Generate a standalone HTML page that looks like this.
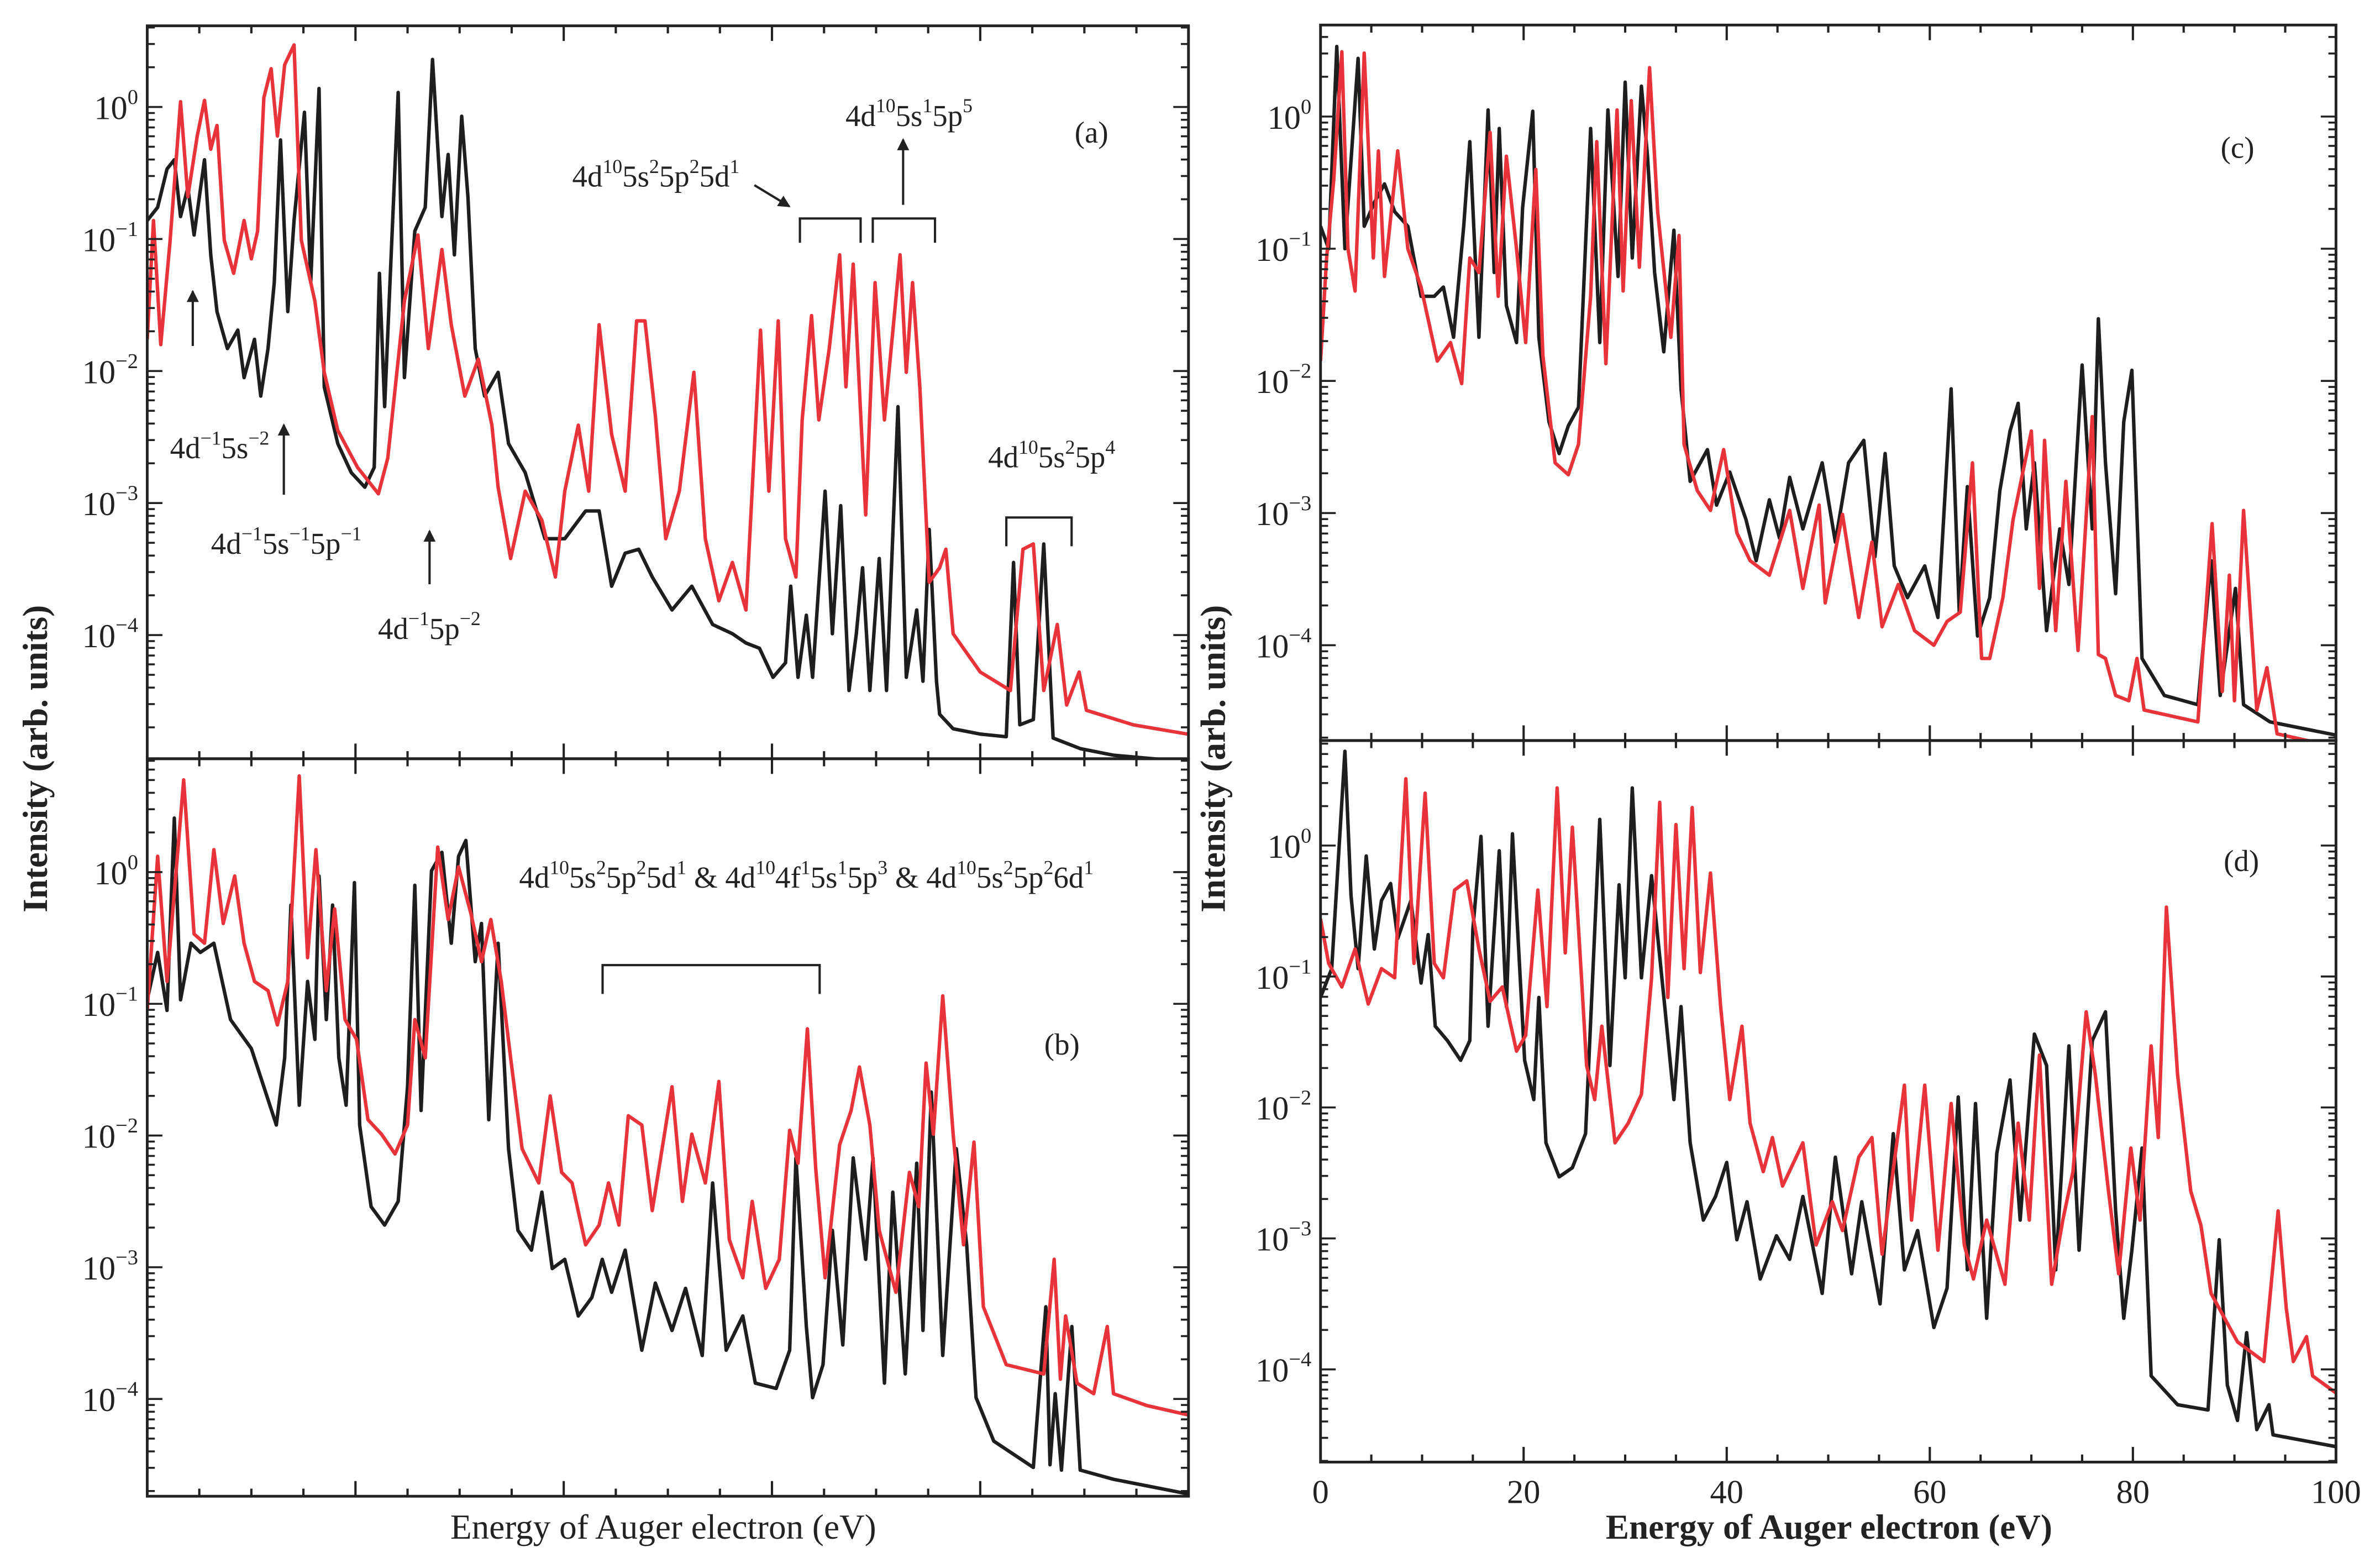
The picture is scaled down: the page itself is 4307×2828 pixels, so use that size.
<!DOCTYPE html>
<html><head><meta charset="utf-8"><style>
html,body{margin:0;padding:0;background:#fff}
svg{display:block}
text{font-family:"Liberation Serif",serif;fill:#222}
</style></head><body>
<svg id="fig" width="4307" height="2828" viewBox="0 0 1568 1030" preserveAspectRatio="none" xmlns="http://www.w3.org/2000/svg">
<rect width="1568" height="1030" fill="#fff"/>
<g id="layer"></g>
</svg>
<script>
// ---- data: [energy (eV), log10 intensity] ----
const aBlack=[[0,-0.86],[1.0,-0.76],[1.9,-0.47],[2.6,-0.40],[3.2,-0.83],[3.9,-0.61],[4.5,-0.97],[5.5,-0.40],[6.1,-1.12],[6.7,-1.55],[7.7,-1.83],[8.7,-1.69],[9.3,-2.05],[10.3,-1.76],[10.9,-2.19],[11.6,-1.83],[12.2,-1.33],[12.8,-0.25],[13.5,-1.55],[14.1,-0.86],[15.1,-0.04],[15.7,-1.33],[16.5,0.14],[17.0,-2.12],[18.3,-2.55],[19.6,-2.77],[20.9,-2.88],[21.8,-2.73],[22.3,-1.26],[22.8,-2.27],[24.1,0.11],[24.7,-2.05],[25.7,-0.94],[26.7,-0.76],[27.4,0.36],[28.3,-0.83],[28.9,-0.36],[29.5,-1.12],[30.2,-0.07],[30.8,-0.68],[31.5,-1.83],[32.4,-2.19],[33.7,-2.01],[34.7,-2.55],[36.3,-2.77],[38.2,-3.27],[40.1,-3.27],[42.1,-3.06],[43.4,-3.06],[44.6,-3.63],[45.9,-3.38],[47.2,-3.35],[48.5,-3.56],[50.4,-3.81],[52.3,-3.63],[54.3,-3.92],[56.2,-3.99],[57.5,-4.06],[58.8,-4.10],[60.1,-4.32],[61.3,-4.21],[61.8,-3.63],[62.5,-4.32],[63.3,-3.85],[63.9,-4.32],[65.1,-2.91],[65.8,-3.99],[66.6,-3.02],[67.4,-4.42],[68.1,-3.99],[68.7,-3.49],[69.4,-4.42],[70.3,-3.42],[71.0,-4.42],[72.1,-2.27],[72.9,-4.32],[73.9,-3.81],[74.5,-4.35],[75.1,-3.20],[75.8,-4.35],[76.1,-4.60],[77.4,-4.71],[80.0,-4.75],[82.5,-4.77],[83.2,-3.45],[83.8,-4.68],[85.1,-4.64],[86.1,-3.31],[87.0,-4.78],[89.6,-4.86],[92.8,-4.91],[99.9,-4.96]];
const aRed=[[0,-1.76],[0.6,-0.86],[1.3,-1.80],[2.2,-1.01],[3.2,0.04],[3.9,-0.68],[4.8,-0.22],[5.5,0.05],[6.1,-0.32],[6.7,-0.14],[7.4,-1.01],[8.3,-1.26],[9.3,-0.86],[10.0,-1.15],[10.6,-0.94],[11.2,0.07],[11.9,0.29],[12.5,-0.22],[13.2,0.32],[14.1,0.47],[14.8,-1.01],[16.1,-1.47],[17.0,-2.01],[18.3,-2.45],[20.2,-2.73],[22.2,-2.93],[23.1,-2.66],[24.7,-1.47],[26.0,-0.97],[27.0,-1.83],[28.3,-1.08],[29.2,-1.65],[30.5,-2.19],[31.8,-1.91],[33.1,-2.41],[33.7,-2.88],[34.9,-3.42],[36.3,-2.91],[37.9,-3.13],[39.2,-3.56],[40.1,-2.91],[41.4,-2.41],[42.4,-2.91],[43.4,-1.65],[44.6,-2.48],[45.9,-2.91],[47.0,-1.62],[47.8,-1.62],[48.8,-2.34],[49.8,-3.27],[51.1,-2.91],[52.5,-2.01],[53.6,-3.27],[54.9,-3.74],[56.2,-3.45],[57.5,-3.81],[58.9,-1.69],[59.7,-2.91],[60.6,-1.62],[61.3,-3.27],[62.3,-3.56],[62.9,-2.37],[63.8,-1.58],[64.5,-2.37],[65.5,-1.83],[66.5,-1.12],[67.1,-2.12],[67.8,-1.19],[69.0,-3.09],[69.9,-1.33],[70.8,-2.37],[72.3,-1.12],[72.9,-2.01],[73.5,-1.33],[74.2,-2.12],[75.1,-3.60],[76.1,-3.49],[76.7,-3.35],[77.4,-3.99],[80.0,-4.28],[82.9,-4.42],[84.1,-3.35],[85.1,-3.31],[86.1,-4.42],[87.4,-3.92],[88.3,-4.53],[89.5,-4.28],[90.2,-4.57],[94.7,-4.68],[99.9,-4.75]];
const bBlack=[[0,-0.97],[1.0,-0.61],[1.9,-1.05],[2.6,0.41],[3.2,-0.97],[4.2,-0.54],[5.1,-0.61],[6.4,-0.54],[8.0,-1.12],[10.0,-1.34],[11.2,-1.63],[12.4,-1.92],[13.2,-1.41],[13.8,-0.25],[14.6,-1.77],[15.4,-0.83],[16.1,-1.27],[16.5,-0.03],[17.2,-1.12],[17.8,-0.25],[18.4,-1.41],[19.1,-1.77],[19.9,-0.08],[20.4,-1.92],[21.5,-2.54],[22.8,-2.68],[24.1,-2.50],[25.0,-1.63],[25.7,-0.10],[26.3,-1.81],[27.3,0.01],[28.3,0.15],[29.2,-0.54],[29.9,0.12],[30.6,0.24],[31.5,-0.68],[32.1,-0.39],[32.8,-1.88],[33.7,-0.54],[34.7,-2.10],[35.6,-2.72],[36.9,-2.87],[37.9,-2.43],[38.9,-3.01],[40.1,-2.94],[41.4,-3.37],[42.7,-3.23],[43.7,-2.94],[44.6,-3.19],[45.9,-2.87],[47.5,-3.63],[48.8,-3.12],[50.4,-3.48],[51.7,-3.16],[53.3,-3.67],[54.3,-2.36],[55.6,-3.63],[57.2,-3.37],[58.4,-3.88],[60.4,-3.92],[61.7,-3.63],[62.3,-2.17],[63.3,-3.45],[63.9,-3.99],[64.9,-3.74],[65.8,-2.72],[66.8,-3.59],[67.8,-2.17],[69.0,-2.94],[69.7,-2.17],[70.8,-3.88],[71.6,-2.43],[72.8,-3.81],[73.9,-2.21],[74.5,-3.48],[75.3,-1.67],[76.4,-3.67],[77.7,-2.10],[78.7,-2.83],[79.6,-3.99],[81.3,-4.32],[85.1,-4.52],[86.3,-3.30],[86.7,-4.50],[87.2,-3.96],[87.8,-4.54],[88.8,-3.45],[89.6,-4.54],[92.8,-4.61],[99.9,-4.72]];
const bRed=[[0,-1.05],[1.0,0.12],[1.9,-0.83],[3.5,0.70],[4.5,-0.47],[5.5,-0.54],[6.4,0.17],[7.3,-0.39],[8.4,-0.03],[9.3,-0.54],[10.3,-0.83],[11.6,-0.90],[12.5,-1.16],[13.5,-0.83],[14.6,0.73],[15.4,-0.65],[16.2,0.17],[17.2,-0.90],[18.0,-0.28],[19.0,-1.12],[20.1,-1.27],[21.2,-1.88],[22.5,-1.99],[23.8,-2.14],[25.0,-1.92],[25.7,-1.12],[26.7,-1.41],[27.9,0.19],[28.9,-0.36],[29.9,0.04],[31.1,-0.32],[32.1,-0.68],[33.0,-0.36],[34.0,-0.83],[34.9,-1.41],[36.0,-2.10],[37.6,-2.36],[38.7,-1.70],[39.8,-2.28],[40.8,-2.36],[42.1,-2.83],[43.4,-2.68],[44.3,-2.36],[45.3,-2.68],[46.2,-1.85],[47.5,-1.92],[48.5,-2.57],[50.4,-1.63],[51.4,-2.50],[52.3,-1.99],[53.6,-2.36],[54.9,-1.59],[55.9,-2.79],[57.2,-3.08],[58.1,-2.50],[59.4,-3.16],[60.7,-2.94],[61.7,-1.96],[62.5,-2.21],[63.4,-1.19],[64.2,-2.25],[65.1,-3.08],[66.5,-2.07],[67.6,-1.81],[68.4,-1.48],[69.4,-1.92],[70.3,-2.72],[71.9,-3.19],[73.2,-2.28],[74.1,-2.54],[74.8,-1.45],[75.5,-1.99],[76.4,-0.94],[77.4,-1.99],[78.4,-2.83],[79.4,-2.05],[80.3,-3.30],[82.5,-3.74],[86.1,-3.81],[87.1,-2.94],[87.7,-3.85],[88.2,-3.37],[89.3,-3.88],[90.9,-3.96],[92.2,-3.45],[92.8,-3.96],[96.0,-4.05],[99.9,-4.12]];
const cBlack=[[0,-0.83],[0.8,-1.00],[1.6,0.53],[2.4,-1.00],[3.7,0.44],[4.3,-0.83],[5.3,-0.65],[6.3,-0.51],[7.3,-0.72],[8.6,-0.83],[9.9,-1.36],[11.2,-1.36],[12.1,-1.29],[13.1,-1.67],[14.1,-0.83],[14.7,-0.19],[15.6,-1.67],[16.5,0.05],[17.1,-1.18],[17.6,-0.09],[18.3,-1.43],[19.3,-1.71],[19.9,-0.69],[20.9,0.04],[21.5,-1.67],[22.5,-2.31],[23.5,-2.55],[24.4,-2.34],[25.4,-2.20],[26.6,-0.09],[27.5,-1.71],[28.3,0.05],[29.3,-1.21],[30.0,0.26],[30.7,-1.07],[31.6,0.23],[32.2,-0.30],[32.9,-1.18],[33.8,-1.78],[34.8,-0.86],[35.5,-2.06],[36.4,-2.76],[38.1,-2.52],[39.0,-2.94],[40.3,-2.69],[41.9,-3.05],[42.9,-3.36],[44.2,-2.90],[45.2,-3.19],[46.2,-2.73],[47.5,-3.12],[49.4,-2.62],[50.7,-3.22],[52.0,-2.62],[53.5,-2.45],[54.6,-3.33],[55.6,-2.55],[56.5,-3.40],[57.8,-3.64],[59.5,-3.40],[60.8,-3.79],[62.1,-2.06],[62.9,-3.75],[63.7,-2.80],[64.7,-3.93],[65.9,-3.64],[66.9,-2.83],[67.9,-2.38],[68.7,-2.17],[69.5,-3.12],[70.3,-2.62],[71.5,-3.89],[72.8,-3.12],[73.7,-3.54],[75.0,-1.88],[76.0,-3.12],[76.6,-1.53],[77.3,-2.62],[78.3,-3.61],[79.1,-2.31],[79.9,-1.92],[80.9,-4.10],[83.1,-4.38],[86.4,-4.45],[87.7,-3.36],[88.6,-4.38],[90.1,-3.57],[90.9,-4.45],[93.5,-4.58],[100,-4.68]];
const cRed=[[0,-1.85],[0.6,-1.07],[1.3,-0.48],[2.1,0.49],[2.7,-1.00],[3.4,-1.32],[4.3,0.48],[5.2,-1.07],[5.7,-0.26],[6.3,-1.21],[7.6,-0.26],[8.6,-1.00],[9.9,-1.29],[11.5,-1.85],[12.8,-1.71],[13.9,-2.02],[14.7,-1.07],[15.6,-1.18],[16.7,-0.12],[17.5,-1.36],[18.3,-0.30],[19.3,-1.00],[20.2,-1.71],[21.2,-0.40],[21.9,-1.81],[23.1,-2.62],[24.4,-2.71],[25.4,-2.48],[26.6,-1.36],[27.2,-0.19],[28.1,-1.87],[29.2,0.05],[29.8,-1.32],[30.6,0.12],[31.4,-1.14],[32.4,0.37],[33.2,-0.72],[34.5,-1.67],[35.3,-0.90],[35.8,-2.48],[37.1,-2.83],[38.4,-2.98],[39.7,-2.52],[41.0,-3.15],[42.3,-3.36],[44.2,-3.47],[46.2,-2.98],[47.5,-3.57],[49.1,-2.94],[49.7,-3.68],[51.4,-3.01],[53.0,-3.79],[54.3,-3.22],[55.3,-3.86],[56.9,-3.54],[58.5,-3.89],[60.4,-4.00],[61.7,-3.82],[63.0,-3.75],[64.2,-2.62],[65.1,-4.10],[65.9,-4.10],[67.2,-3.64],[68.2,-3.05],[70.0,-2.38],[70.8,-3.57],[71.3,-2.45],[72.4,-3.89],[73.4,-2.76],[74.6,-4.04],[76.0,-2.27],[76.6,-4.07],[77.3,-4.10],[78.3,-4.38],[79.6,-4.42],[80.4,-4.10],[81.1,-4.49],[86.4,-4.58],[87.8,-3.08],[88.8,-4.35],[89.5,-3.47],[90.0,-4.42],[90.9,-2.98],[92.2,-4.49],[93.2,-4.17],[94.2,-4.67],[100,-4.77]];
const dBlack=[[0,-1.16],[1.1,-0.94],[2.4,0.72],[3.0,-0.38],[3.7,-0.94],[4.5,-0.08],[5.3,-0.79],[6.0,-0.42],[6.9,-0.29],[7.6,-0.71],[8.9,-0.42],[9.9,-1.05],[10.6,-0.68],[11.3,-1.38],[12.5,-1.49],[13.8,-1.64],[14.7,-1.49],[15.0,-0.64],[15.8,0.07],[16.5,-1.38],[17.6,-0.04],[18.3,-1.23],[18.9,0.09],[20.1,-1.64],[21.0,-1.94],[21.5,-1.16],[22.2,-2.27],[23.5,-2.53],[24.8,-2.46],[26.1,-2.20],[27.5,0.20],[28.5,-1.68],[29.4,-0.30],[30.0,-1.01],[30.7,0.44],[31.6,-1.01],[32.6,-0.23],[33.9,-1.23],[34.8,-1.94],[35.5,-1.23],[36.4,-2.27],[37.7,-2.86],[38.9,-2.68],[40.0,-2.42],[41.0,-3.01],[42.0,-2.72],[43.3,-3.31],[44.9,-2.98],[46.2,-3.16],[47.5,-2.68],[49.4,-3.42],[50.7,-2.38],[52.3,-3.27],[53.3,-2.72],[55.1,-3.50],[56.4,-2.20],[57.5,-3.24],[58.8,-2.94],[60.4,-3.68],[61.7,-3.38],[62.8,-1.92],[63.7,-3.24],[64.5,-1.97],[65.6,-3.61],[66.6,-2.35],[67.9,-1.79],[68.9,-2.86],[70.3,-1.44],[71.5,-1.68],[72.4,-3.24],[73.7,-1.53],[74.7,-3.09],[76.0,-1.49],[77.3,-1.27],[78.3,-2.79],[79.1,-3.61],[79.9,-3.09],[80.9,-2.31],[81.8,-4.05],[84.4,-4.27],[87.4,-4.31],[88.5,-3.01],[89.3,-4.12],[90.3,-4.39],[91.2,-3.72],[92.2,-4.46],[93.4,-4.27],[93.8,-4.50],[100,-4.59]];
const dRed=[[0,-0.56],[0.8,-0.90],[2.1,-1.08],[3.4,-0.79],[4.7,-1.21],[6.0,-0.94],[7.3,-1.01],[8.4,0.51],[9.2,-0.90],[10.3,0.40],[11.2,-0.90],[12.1,-1.01],[13.2,-0.34],[14.4,-0.27],[15.6,-0.79],[16.7,-1.19],[17.9,-1.08],[19.3,-1.57],[20.2,-1.45],[21.4,-0.34],[22.3,-1.23],[23.3,0.44],[24.1,-0.82],[24.8,0.14],[25.7,-1.01],[26.2,-1.68],[27.0,-1.94],[27.7,-1.38],[29.0,-2.27],[30.3,-2.12],[31.6,-1.90],[32.6,-1.01],[33.4,0.33],[34.2,-1.16],[35.0,0.16],[35.8,-0.94],[36.6,0.29],[37.4,-0.97],[38.4,-0.21],[39.4,-1.23],[40.3,-1.94],[41.5,-1.38],[42.3,-2.12],[43.6,-2.49],[44.5,-2.23],[45.5,-2.60],[47.5,-2.27],[48.8,-3.05],[50.4,-2.72],[51.4,-2.94],[53.0,-2.38],[54.3,-2.23],[55.3,-3.12],[57.5,-1.83],[58.2,-2.86],[59.5,-1.83],[60.8,-3.09],[62.1,-1.97],[63.4,-3.05],[64.3,-3.31],[65.6,-2.86],[67.4,-3.35],[68.7,-2.12],[69.8,-2.86],[70.8,-1.60],[72.0,-3.35],[73.1,-2.86],[74.1,-2.49],[75.4,-1.27],[76.3,-1.75],[77.6,-2.64],[78.6,-3.27],[79.8,-2.31],[80.7,-2.86],[81.8,-1.53],[82.5,-2.23],[83.3,-0.47],[84.4,-1.75],[85.7,-2.64],[86.7,-2.90],[87.7,-3.42],[90.3,-3.79],[92.9,-3.94],[94.3,-2.79],[95.1,-3.53],[95.8,-3.94],[97.1,-3.75],[97.7,-4.05],[100,-4.18]];
const xTicks=[0,20,40,60,80,100];
const yDecades=[0,-1,-2,-3,-4];

const NS='http://www.w3.org/2000/svg';
const layer=document.getElementById('layer');
function mk(tag,attrs,parent){const e=document.createElementNS(NS,tag);for(const k in attrs)e.setAttribute(k,attrs[k]);(parent||layer).appendChild(e);return e;}

const panels=[
 {id:'a',x0:97,x1:783,top:17,bot:500,y0:70.5,dec:87,black:aBlack,red:aRed,xlabels:false},
 {id:'b',x0:97,x1:783,top:500,bot:986,y0:574.7,dec:86.8,black:bBlack,red:bRed,xlabels:false},
 {id:'c',x0:870,x1:1539,top:16.5,bot:488,y0:76.8,dec:87.1,black:cBlack,red:cRed,xlabels:false},
 {id:'d',x0:870,x1:1539,top:488,bot:963.5,y0:557.2,dec:86.3,black:dBlack,red:dRed,xlabels:true}
];
const defs=mk('defs',{});
panels.forEach(p=>{
  const xs=e=>p.x0+(e/100)*(p.x1-p.x0);
  const ys=l=>p.y0-l*p.dec;
  const g=mk('g',{});
  
  
  const cp=mk('clipPath',{id:'clip-'+p.id},defs);
  mk('rect',{x:p.x0,y:p.top,width:p.x1-p.x0,height:p.bot-p.top},cp);
  [['black','#1e1e1e',p.black],['red','#e8333a',p.red]].forEach(([nm,col,arr])=>{
    const d=arr.map((pt,i)=>(i?'L':'M')+xs(pt[0]).toFixed(2)+','+ys(pt[1]).toFixed(2)).join('');
    const path=mk('path',{d:d,fill:'none',stroke:col,'stroke-width':2.3,'stroke-linejoin':'round','clip-path':'url(#clip-'+p.id+')'},g);
    
    
  });
  const fr=mk('rect',{x:p.x0,y:p.top,width:p.x1-p.x0,height:p.bot-p.top,fill:'none',stroke:'#222','stroke-width':1.8},g);
  
  
  for(let e=0;e<=100;e+=5){
    const major=e%20===0;const L=major?10:5;const x=xs(e);
    mk('line',{x1:x,x2:x,y1:p.bot,y2:p.bot-L,stroke:'#222','stroke-width':1.5},g);
    mk('line',{x1:x,x2:x,y1:p.top,y2:p.top+L,stroke:'#222','stroke-width':1.5},g);
  }
  if(p.xlabels){xTicks.forEach(v=>{const t=mk('text',{x:xs(v),y:p.bot+27,'text-anchor':'middle','font-size':22},g);t.textContent=v;
    });}
  const lo=Math.floor((p.y0-p.bot)/p.dec),hi=Math.ceil((p.y0-p.top)/p.dec);
  for(let n=lo;n<=hi;n++){for(let k=1;k<=9;k++){
    const y=ys(n+Math.log10(k));if(y<p.top+0.5||y>p.bot-0.5)continue;
    const L=k===1?10:5;
    mk('line',{x1:p.x0,x2:p.x0+L,y1:y,y2:y,stroke:'#222','stroke-width':1.3},g);
    mk('line',{x1:p.x1,x2:p.x1-L,y1:y,y2:y,stroke:'#222','stroke-width':1.3},g);
  }}
  yDecades.forEach(n=>{const t=mk('text',{x:p.x0-6,y:ys(n)+8,'text-anchor':'end','font-size':22},g);
    
    t.appendChild(document.createTextNode('10'));
    const s=mk('tspan',{dy:-10,'font-size':14},t);s.textContent=n===0?'0':'\u2212'+(-n);});
});
</script>
<svg style="position:absolute;left:0;top:0" width="4307" height="2828" viewBox="0 0 1568 1030" preserveAspectRatio="none" xmlns="http://www.w3.org/2000/svg">
<defs><marker id="ah" markerWidth="8" markerHeight="8" refX="7" refY="4" orient="auto" markerUnits="userSpaceOnUse"><path d="M0,0 L8,4 L0,8 z" fill="#222"/></marker></defs>
<g font-family="Liberation Serif, serif" font-size="20" fill="#222" stroke="none">
<text x="112" y="302" font-family="Liberation Serif, serif">4d<tspan dy="-9" font-size="13">−1</tspan><tspan dy="9">5s</tspan><tspan dy="-9" font-size="13">−2</tspan></text>
<text x="139" y="365" font-family="Liberation Serif, serif">4d<tspan dy="-9" font-size="13">−1</tspan><tspan dy="9">5s</tspan><tspan dy="-9" font-size="13">−1</tspan><tspan dy="9">5p</tspan><tspan dy="-9" font-size="13">−1</tspan></text>
<text x="249" y="421" font-family="Liberation Serif, serif">4d<tspan dy="-9" font-size="13">−1</tspan><tspan dy="9">5p</tspan><tspan dy="-9" font-size="13">−2</tspan></text>
<text x="377" y="123" font-family="Liberation Serif, serif">4d<tspan dy="-9" font-size="13">10</tspan><tspan dy="9">5s</tspan><tspan dy="-9" font-size="13">2</tspan><tspan dy="9">5p</tspan><tspan dy="-9" font-size="13">2</tspan><tspan dy="9">5d</tspan><tspan dy="-9" font-size="13">1</tspan></text>
<text x="557" y="83" font-family="Liberation Serif, serif">4d<tspan dy="-9" font-size="13">10</tspan><tspan dy="9">5s</tspan><tspan dy="-9" font-size="13">1</tspan><tspan dy="9">5p</tspan><tspan dy="-9" font-size="13">5</tspan></text>
<text x="651" y="308" font-family="Liberation Serif, serif">4d<tspan dy="-9" font-size="13">10</tspan><tspan dy="9">5s</tspan><tspan dy="-9" font-size="13">2</tspan><tspan dy="9">5p</tspan><tspan dy="-9" font-size="13">4</tspan></text>
<text x="708" y="94" font-family="Liberation Serif, serif">(a)</text>
<text x="342" y="585" font-family="Liberation Serif, serif">4d<tspan dy="-9" font-size="13">10</tspan><tspan dy="9">5s</tspan><tspan dy="-9" font-size="13">2</tspan><tspan dy="9">5p</tspan><tspan dy="-9" font-size="13">2</tspan><tspan dy="9">5d</tspan><tspan dy="-9" font-size="13">1</tspan><tspan dy="9"> &amp; 4d</tspan><tspan dy="-9" font-size="13">10</tspan><tspan dy="9">4f</tspan><tspan dy="-9" font-size="13">1</tspan><tspan dy="9">5s</tspan><tspan dy="-9" font-size="13">1</tspan><tspan dy="9">5p</tspan><tspan dy="-9" font-size="13">3</tspan><tspan dy="9"> &amp; 4d</tspan><tspan dy="-9" font-size="13">10</tspan><tspan dy="9">5s</tspan><tspan dy="-9" font-size="13">2</tspan><tspan dy="9">5p</tspan><tspan dy="-9" font-size="13">2</tspan><tspan dy="9">6d</tspan><tspan dy="-9" font-size="13">1</tspan></text>
<text x="688" y="695" font-family="Liberation Serif, serif">(b)</text>
<text x="1463" y="104" font-family="Liberation Serif, serif">(c)</text>
<text x="1465" y="574" font-family="Liberation Serif, serif">(d)</text>
</g>
<g stroke="#222" stroke-width="1.5" fill="none">
<line x1="127" y1="228" x2="127" y2="192" marker-end="url(#ah)"/>
<line x1="187" y1="326" x2="187" y2="280" marker-end="url(#ah)"/>
<line x1="283" y1="385" x2="283" y2="350" marker-end="url(#ah)"/>
<line x1="497" y1="122" x2="520" y2="136" marker-end="url(#ah)"/>
<line x1="595" y1="135" x2="595" y2="92" marker-end="url(#ah)"/>
<path d="M527,160 V144 H567 V160 M575,160 V144 H616 V160"/>
<path d="M663,360 V341 H706 V360"/>
<path d="M397,655 V636 H540 V655"/>
</g>
<g font-family="Liberation Serif, serif" fill="#222">
<text x="437" y="1014" text-anchor="middle" font-size="23">Energy of Auger electron (eV)</text>
<text x="1205" y="1014" text-anchor="middle" font-size="23" font-weight="bold">Energy of Auger electron (eV)</text>
<text transform="translate(31,500) rotate(-90)" text-anchor="middle" font-size="23" font-weight="bold">Intensity (arb. units)</text>
<text transform="translate(807,500) rotate(-90)" text-anchor="middle" font-size="23" font-weight="bold">Intensity (arb. units)</text>
</g>
</svg>
</body></html>
